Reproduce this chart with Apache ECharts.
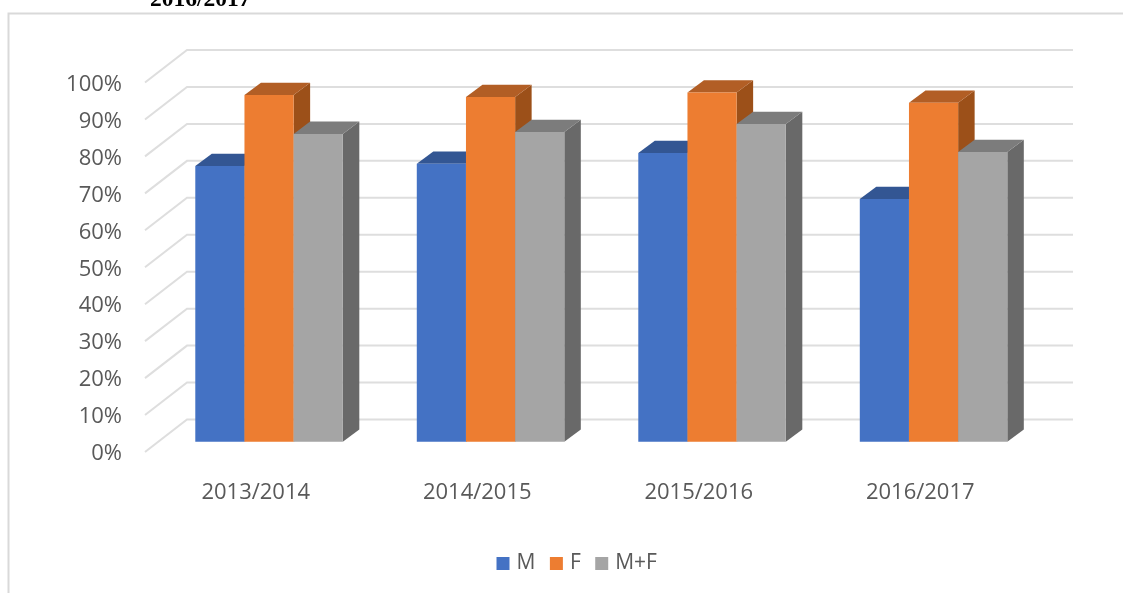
<!DOCTYPE html>
<html>
<head>
<meta charset="utf-8">
<style>html,body{margin:0;padding:0;background:#fff}#c{width:1123px;height:593px}</style>
<script src="https://cdn.jsdelivr.net/npm/echarts@6/dist/echarts.min.js"></script>
</head>
<body>
<div id="c"></div>
<script>
const categories = ['2013/2014', '2014/2015', '2015/2016', '2016/2017'];
const mValues = [74.6, 75.2, 78.1, 65.7];
const fValues = [93.8, 93.3, 94.5, 91.7];
const mfValues = [83.3, 83.8, 86.0, 78.4];
const gridTicks = [0, 10, 20, 30, 40, 50, 60, 70, 80, 90, 100];
const titleFragment = '2016/2017';

const FLOOR_DX = 42, FLOOR_DY = -32.5;      // depth of the chart floor
const PLANE_DX = 13.3, PLANE_DY = -10.3;    // where the bar fronts stand on it
const BAR_DX = 16.5, BAR_DY = -12.3;        // depth of each bar
const BAR_RATIO = 0.222;

function barSeries(name, values, pos, front, top, side) {
  return {
    name, type: 'custom', coordinateSystem: 'cartesian2d',
    itemStyle: { color: front },
    encode: { x: 0, y: 1 },
    data: values.map((v, i) => [i, v]),
    z: 3,
    renderItem(params, api) {
      const w = api.size([1, 0])[0] * BAR_RATIO;
      const base = api.coord([api.value(0), 0]);
      const head = api.coord([api.value(0), api.value(1)]);
      const x0 = base[0] + PLANE_DX + (pos - 1.5) * w, x1 = x0 + w;
      const yB = base[1] + PLANE_DY, yT = head[1] + PLANE_DY;
      const dx = BAR_DX, dy = BAR_DY;
      return {
        type: 'group',
        children: [
          { type: 'polygon', shape: { points: [[x1, yB], [x1 + dx, yB + dy], [x1 + dx, yT + dy], [x1, yT]] }, style: { fill: side } },
          { type: 'polygon', shape: { points: [[x0, yT], [x1, yT], [x1 + dx, yT + dy], [x0 + dx, yT + dy]] }, style: { fill: top } },
          { type: 'rect', shape: { x: x0, y: yT, width: w, height: yB - yT }, style: { fill: front } }
        ]
      };
    }
  };
}

const chart = echarts.init(document.getElementById('c'), null, { renderer: 'canvas' });
chart.setOption({
  animation: false,
  backgroundColor: '#ffffff',
  title: {
    text: titleFragment, left: 145, top: -17,
    textStyle: { fontFamily: 'Liberation Serif', fontWeight: 'bold', fontSize: 23.5, color: '#000' }
  },
  grid: { left: 145, top: 82.5, width: 886, height: 369.5, containLabel: false },
  legend: {
    left: 491.5, top: 548, icon: 'rect', itemWidth: 13, itemHeight: 13, itemGap: 14.5,
    data: ['M', 'F', 'M+F'], selectedMode: false,
    textStyle: { fontFamily: 'Open Sans', fontSize: 21, color: '#595959', padding: [0, 0, 0, 2] }
  },
  xAxis: {
    type: 'category', data: categories,
    axisLine: { show: false }, axisTick: { show: false }, splitLine: { show: false },
    axisLabel: { margin: 30, fontFamily: 'Open Sans', fontSize: 22, color: '#595959' }
  },
  yAxis: {
    type: 'value', min: 0, max: 100, interval: 10,
    axisLine: { show: false }, axisTick: { show: false }, splitLine: { show: false },
    axisLabel: { formatter: '{value}%', margin: 23, verticalAlign: 'top', lineHeight: 4, fontFamily: 'Open Sans', fontSize: 22, color: '#595959' }
  },
  graphic: [
    { type: 'polyline', silent: true, z: 0, shape: { points: [[8.5, 593], [8.5, 13.5], [1123, 13.5]] }, style: { fill: 'none', stroke: '#d9d9d9', lineWidth: 2 } }
  ],
  series: [
    {
      name: 'grid', type: 'custom', silent: true, z: 1,
      data: gridTicks.map(v => [0, v]),
      encode: { x: 0, y: 1 },
      renderItem(params, api) {
        const y = api.coord([0, api.value(1)])[1];
        const cs = params.coordSys;
        return {
          type: 'polyline',
          shape: { points: [[cs.x, y], [cs.x + FLOOR_DX, y + FLOOR_DY], [cs.x + cs.width + FLOOR_DX, y + FLOOR_DY]] },
          style: { fill: 'none', stroke: '#dedede', lineWidth: 2 }
        };
      }
    },
    barSeries('M', mValues, 0, '#4472C4', '#335693', '#2A4A80'),
    barSeries('F', fValues, 1, '#ED7D31', '#B25E25', '#9C5019'),
    barSeries('M+F', mfValues, 2, '#A5A5A5', '#7C7C7C', '#696969')
  ]
});
</script>
</body>
</html>
